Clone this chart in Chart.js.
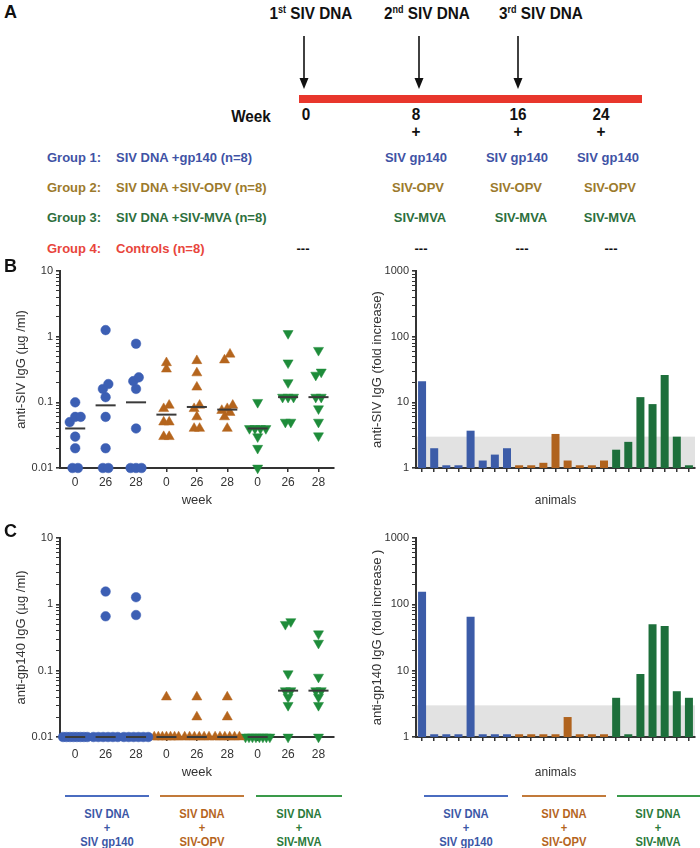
<!DOCTYPE html>
<html lang="en">
<head>
<meta charset="UTF-8">
<title>SIV DNA prime / boost – IgG responses</title>
<script src="https://cdn.jsdelivr.net/npm/chart.js"></script>
<style>
  body { margin: 0; background: #fff; font-family: "Liberation Sans", Arial, sans-serif; }
  #fig { position: relative; width: 700px; height: 848px; overflow: hidden; }
  .t { position: absolute; white-space: nowrap; font-weight: bold; }
  .c { transform: translate(-50%, -50%); }
  .l { transform: translate(0, -50%); }
  .c.nar { transform: translate(-50%, -50%) scaleX(0.9); }
  .pl { font-size: 18px; color: #111; }
  .top { font-size: 17px; color: #111; }
  .top sup { font-size: 10px; }
  .grp { font-size: 13px; }
  .g1 { color: #3f53a5; } .g2 { color: #9c7a2c; } .g3 { color: #2e6f3d; } .g4 { color: #e8453c; }
  canvas { position: absolute; }
  .bar { position: absolute; height: 2px; }
  .lab { position: absolute; text-align: center; font-weight: bold; font-size: 13px; line-height: 14px;
         white-space: nowrap; transform: translateX(-50%) scaleX(0.86); }
  .lb { color: #3b57a6; } .lo { color: #b5651d; } .lg { color: #2a7a3a; }
</style>
</head>
<body>
<div id="fig">
  <!-- A: schedule -->
  <svg width="700" height="140" style="position:absolute;left:0;top:0">
    <g stroke="#111" stroke-width="1.6">
      <line x1="304" y1="36" x2="304" y2="80"/>
      <line x1="419" y1="36" x2="419" y2="80"/>
      <line x1="518" y1="36" x2="518" y2="80"/>
    </g>
    <g fill="#111">
      <polygon points="299.5,78 308.5,78 304,89"/>
      <polygon points="414.5,78 423.5,78 419,89"/>
      <polygon points="513.5,78 522.5,78 518,89"/>
    </g>
    <rect x="299" y="95" width="343" height="8" fill="#e8362c"/>
  </svg>
  <div class="t pl" style="left:4px;top:2px">A</div>
  <div class="t c nar top" style="left:311px;top:14px">1<sup>st</sup> SIV DNA</div>
  <div class="t c nar top" style="left:427px;top:14px">2<sup>nd</sup> SIV DNA</div>
  <div class="t c nar top" style="left:541px;top:14px">3<sup>rd</sup> SIV DNA</div>
  <div class="t c nar top" style="left:251px;top:117px">Week</div>
  <div class="t c nar top" style="left:306px;top:115px">0</div>
  <div class="t c nar top" style="left:416px;top:115px">8</div>
  <div class="t c nar top" style="left:518px;top:115px">16</div>
  <div class="t c nar top" style="left:601px;top:115px">24</div>
  <div class="t c nar top" style="left:416px;top:132px">+</div>
  <div class="t c nar top" style="left:518px;top:132px">+</div>
  <div class="t c nar top" style="left:601px;top:132px">+</div>

  <div class="t l grp g1" style="left:47px;top:157px">Group 1:</div>
  <div class="t l grp g1" style="left:116px;top:157px">SIV DNA +gp140 (n=8)</div>
  <div class="t c grp g1" style="left:416px;top:157px">SIV gp140</div>
  <div class="t c grp g1" style="left:517px;top:157px">SIV gp140</div>
  <div class="t c grp g1" style="left:608px;top:157px">SIV gp140</div>

  <div class="t l grp g2" style="left:47px;top:187px">Group 2:</div>
  <div class="t l grp g2" style="left:116px;top:187px">SIV DNA +SIV-OPV (n=8)</div>
  <div class="t c grp g2" style="left:418px;top:187px">SIV-OPV</div>
  <div class="t c grp g2" style="left:516px;top:187px">SIV-OPV</div>
  <div class="t c grp g2" style="left:610px;top:187px">SIV-OPV</div>

  <div class="t l grp g3" style="left:47px;top:217px">Group 3:</div>
  <div class="t l grp g3" style="left:116px;top:217px">SIV DNA +SIV-MVA (n=8)</div>
  <div class="t c grp g3" style="left:420px;top:217px">SIV-MVA</div>
  <div class="t c grp g3" style="left:521px;top:217px">SIV-MVA</div>
  <div class="t c grp g3" style="left:610px;top:217px">SIV-MVA</div>

  <div class="t l grp g4" style="left:47px;top:248px">Group 4:</div>
  <div class="t l grp g4" style="left:116px;top:248px">Controls (n=8)</div>
  <div class="t c grp" style="left:303px;top:248px;color:#111">---</div>
  <div class="t c grp" style="left:421px;top:248px;color:#111">---</div>
  <div class="t c grp" style="left:522px;top:248px;color:#111">---</div>
  <div class="t c grp" style="left:611px;top:248px;color:#111">---</div>

  <!-- B / C -->
  <canvas id="sivDots" style="left:0;top:258px;width:340px;height:250px"></canvas>
  <canvas id="sivFold" style="left:350px;top:258px;width:350px;height:250px"></canvas>
  <canvas id="gpDots" style="left:0;top:525px;width:340px;height:255px"></canvas>
  <canvas id="gpFold" style="left:350px;top:525px;width:350px;height:255px"></canvas>
  <div class="t pl" style="left:4px;top:256px">B</div>
  <div class="t pl" style="left:4px;top:521px">C</div>

  <!-- group keys under C -->
  <div class="bar" style="left:65px;top:795px;width:84px;background:#4a6cc0"></div>
  <div class="bar" style="left:160px;top:795px;width:84px;background:#c27a3a"></div>
  <div class="bar" style="left:256px;top:795px;width:86px;background:#3a9a4a"></div>
  <div class="bar" style="left:424px;top:795px;width:84px;background:#4a6cc0"></div>
  <div class="bar" style="left:522px;top:795px;width:84px;background:#c27a3a"></div>
  <div class="bar" style="left:617px;top:795px;width:83px;background:#3a9a4a"></div>
  <div class="lab lb" style="left:107px;top:807px">SIV DNA<br>+<br>SIV gp140</div>
  <div class="lab lo" style="left:202px;top:807px">SIV DNA<br>+<br>SIV-OPV</div>
  <div class="lab lg" style="left:299px;top:807px">SIV DNA<br>+<br>SIV-MVA</div>
  <div class="lab lb" style="left:466px;top:807px">SIV DNA<br>+<br>SIV gp140</div>
  <div class="lab lo" style="left:564px;top:807px">SIV DNA<br>+<br>SIV-OPV</div>
  <div class="lab lg" style="left:658px;top:807px">SIV DNA<br>+<br>SIV-MVA</div>
</div>

<script>
// sampling weeks shown for every group
const weeks = ['0', '26', '28'];
// anti-SIV IgG (ug/ml), 8 animals per group, at weeks 0 / 26 / 28
const sivGp140 = [
  [0.1, 0.06, 0.06, 0.05, 0.03, 0.02, 0.01, 0.01],
  [1.26, 0.19, 0.16, 0.12, 0.06, 0.02, 0.01, 0.01],
  [0.78, 0.24, 0.21, 0.16, 0.04, 0.01, 0.01, 0.01]
];
const sivOpv = [
  [0.4, 0.32, 0.09, 0.08, 0.05, 0.05, 0.03, 0.03],
  [0.43, 0.28, 0.17, 0.09, 0.08, 0.06, 0.04, 0.04],
  [0.54, 0.44, 0.09, 0.08, 0.075, 0.07, 0.06, 0.04]
];
const sivMva = [
  [0.1, 0.04, 0.04, 0.04, 0.04, 0.03, 0.02, 0.01],
  [1.12, 0.4, 0.2, 0.12, 0.12, 0.12, 0.05, 0.05],
  [0.62, 0.29, 0.26, 0.12, 0.12, 0.08, 0.05, 0.031]
];
// anti-gp140 IgG (ug/ml)
const gpGp140 = [
  [0.01, 0.01, 0.01, 0.01, 0.01, 0.01, 0.01, 0.01],
  [1.56, 0.66, 0.01, 0.01, 0.01, 0.01, 0.01, 0.01],
  [1.28, 0.69, 0.01, 0.01, 0.01, 0.01, 0.01, 0.01]
];
const gpOpv = [
  [0.04, 0.01, 0.01, 0.01, 0.01, 0.01, 0.01, 0.01],
  [0.04, 0.02, 0.01, 0.01, 0.01, 0.01, 0.01, 0.01],
  [0.04, 0.02, 0.01, 0.01, 0.01, 0.01, 0.01, 0.01]
];
const gpMva = [
  [0.01, 0.01, 0.01, 0.01, 0.01, 0.01, 0.01, 0.01],
  [0.55, 0.5, 0.09, 0.05, 0.05, 0.04, 0.03, 0.01],
  [0.36, 0.26, 0.08, 0.05, 0.05, 0.04, 0.03, 0.01]
];
// fold increase per animal (bars), groups in order gp140 / OPV / MVA
const animalsPerGroup = [8, 8, 7];
const foldSiv = [21, 2.0, 1.1, 1.1, 3.7, 1.3, 1.6, 2.0,
                 1.1, 1.1, 1.2, 3.3, 1.3, 1.1, 1.1, 1.3,
                 1.9, 2.5, 12, 9.4, 26, 3.0, 1.1];
const foldGp = [155, 1.1, 1.1, 1.1, 65, 1.1, 1.1, 1.1,
                1.1, 1.1, 1.1, 1.1, 2.0, 1.1, 1.1, 1.1,
                3.9, 1.1, 8.9, 50, 47, 4.9, 3.9];
const foldCutoff = 3;

const dotColors = ['#3c5fb4', '#b5651d', '#1e8c3a'];
const barColors = ['#3c5ca8', '#b0631e', '#1d6f3b'];
const axisColor = '#333';

Chart.defaults.font.family = "'Liberation Sans', Arial, sans-serif";
Chart.defaults.color = axisColor;
Chart.defaults.animation = false;
Chart.defaults.plugins.legend.display = false;
Chart.defaults.plugins.tooltip.enabled = false;

function isDecade(v) {
  const l = Math.log10(v);
  return Math.abs(l - Math.round(l)) < 1e-9;
}

function logTicks(min, max) {
  const out = [];
  for (let e = Math.round(Math.log10(min)); e < Math.round(Math.log10(max)); e++) {
    for (let d = 1; d < 10; d++) out.push({ value: d * Math.pow(10, e) });
  }
  out.push({ value: max });
  return out;
}

function median(vals) {
  const s = [...vals].sort((a, b) => a - b);
  const m = s.length / 2;
  return s.length % 2 ? s[Math.floor(m)] : (s[m - 1] + s[m]) / 2;
}

// spread points that sit on nearly the same value side by side
function spread(vals, col) {
  const s = [...vals].sort((a, b) => a - b);
  const pts = [];
  let i = 0;
  while (i < s.length) {
    let j = i;
    while (j + 1 < s.length && Math.log10(s[j + 1]) - Math.log10(s[i]) < 0.09) j++;
    const n = j - i + 1;
    const step = n > 1 ? Math.min(0.18, 0.8 / (n - 1)) : 0;
    for (let k = 0; k < n; k++) pts.push({ x: col + (k - (n - 1) / 2) * step, y: s[i + k] });
    i = j + 1;
  }
  return pts;
}

function yLog(min, max, title, width, titlePad) {
  return {
    type: 'logarithmic', min, max,
    afterBuildTicks: s => { s.ticks = logTicks(min, max); },
    afterFit: s => { s.width = width; },
    ticks: { autoSkip: false, padding: 3, font: { size: 11 }, color: axisColor,
             callback: v => isDecade(v) ? String(v) : '' },
    grid: { drawOnChartArea: false, drawTicks: true, tickLength: 4, color: axisColor,
            lineWidth: ctx => (ctx.tick && isDecade(ctx.tick.value)) ? 1.6 : 1 },
    border: { color: axisColor, width: 2 },
    title: { display: true, text: title, font: { size: 13 }, color: axisColor,
             padding: { top: titlePad, bottom: 0 } }
  };
}

function medianLines(columns) {
  return {
    id: 'medianLines',
    afterDatasetsDraw(chart) {
      const { ctx, scales: { x, y } } = chart;
      ctx.save();
      ctx.strokeStyle = '#3a3a3a';
      ctx.lineWidth = 2;
      columns.forEach((vals, i) => {
        const py = y.getPixelForValue(median(vals));
        ctx.beginPath();
        ctx.moveTo(x.getPixelForValue(i - 0.33), py);
        ctx.lineTo(x.getPixelForValue(i + 0.33), py);
        ctx.stroke();
      });
      ctx.restore();
    }
  };
}

function cutoffBand(limit) {
  return {
    id: 'cutoffBand',
    beforeDraw(chart) {
      const { ctx, chartArea: a, scales: { y } } = chart;
      const top = y.getPixelForValue(limit);
      ctx.save();
      ctx.fillStyle = '#e2e2e2';
      ctx.fillRect(a.left, top, a.right - a.left, a.bottom - top);
      ctx.restore();
    }
  };
}

function dotChart(id, groups, yTitle, min, max, xHeight, xPad) {
  const colLabels = groups.flatMap(() => weeks);
  const columns = groups.flat();
  const styles = [
    { pointStyle: 'circle', radius: 4.8, rotation: 0 },
    { pointStyle: 'triangle', radius: 5.8, rotation: 0 },
    { pointStyle: 'triangle', radius: 5.8, rotation: 180 }
  ];
  const datasets = groups.map((g, gi) => ({
    data: g.flatMap((vals, wi) => spread(vals, gi * weeks.length + wi)),
    backgroundColor: dotColors[gi],
    borderColor: dotColors[gi],
    borderWidth: 0.5,
    pointStyle: styles[gi].pointStyle,
    pointRadius: styles[gi].radius,
    pointRotation: styles[gi].rotation,
    clip: false
  }));
  return new Chart(document.getElementById(id), {
    type: 'scatter',
    data: { datasets },
    options: {
      responsive: false,
      layout: { padding: { top: 13, right: 5, left: 0, bottom: 0 } },
      scales: {
        x: {
          type: 'linear', min: -0.5, max: colLabels.length - 0.5,
          afterBuildTicks: s => { s.ticks = colLabels.map((_, i) => ({ value: i })); },
          afterFit: s => { s.height = xHeight; },
          ticks: { autoSkip: false, maxRotation: 0, padding: xPad, font: { size: 12 }, color: axisColor,
                   callback: v => colLabels[v] },
          grid: { drawOnChartArea: false, drawTicks: true, tickLength: 4, color: axisColor, lineWidth: 1.5 },
          border: { color: axisColor, width: 2 },
          title: { display: true, text: 'week', font: { size: 13 }, color: axisColor,
                   padding: { top: 0, bottom: 0 } }
        },
        y: yLog(min, max, yTitle, 60, 14)
      }
    },
    plugins: [medianLines(columns)]
  });
}

function foldChart(id, values, yTitle, xHeight) {
  const groupOf = animalsPerGroup.flatMap((n, gi) => Array(n).fill(gi));
  return new Chart(document.getElementById(id), {
    type: 'bar',
    data: {
      labels: values.map((_, i) => String(i + 1)),
      datasets: [{
        data: values,
        backgroundColor: groupOf.map(g => barColors[g]),
        borderWidth: 0,
        categoryPercentage: 1,
        barPercentage: 0.66
      }]
    },
    options: {
      responsive: false,
      layout: { padding: { top: 13, right: 5, left: 0, bottom: 0 } },
      scales: {
        x: {
          type: 'category', offset: true,
          afterFit: s => { s.height = xHeight; },
          ticks: { display: false, autoSkip: false },
          grid: { offset: false, drawOnChartArea: false, drawTicks: true, tickLength: 4,
                  color: axisColor, lineWidth: 1.5 },
          border: { color: axisColor, width: 2 },
          title: { display: true, text: 'animals', font: { size: 12 }, color: axisColor,
                   padding: { top: 0, bottom: 0 } }
        },
        y: yLog(1, 1000, yTitle, 66, 20)
      }
    },
    plugins: [cutoffBand(foldCutoff)]
  });
}

function sizeCanvas(id) {
  const el = document.getElementById(id);
  el.width = parseInt(el.style.width);
  el.height = parseInt(el.style.height);
}
['sivDots', 'sivFold', 'gpDots', 'gpFold'].forEach(sizeCanvas);

dotChart('sivDots', [sivGp140, sivOpv, sivMva], 'anti-SIV IgG (µg /ml)', 0.01, 10, 40, 3);
foldChart('sivFold', foldSiv, 'anti-SIV IgG (fold increase)', 40);
dotChart('gpDots', [gpGp140, gpOpv, gpMva], 'anti-gp140 IgG (µg /ml)', 0.01, 10, 43, 6);
foldChart('gpFold', foldGp, 'anti-gp140 IgG (fold increase )', 43);
</script>
</body>
</html>
